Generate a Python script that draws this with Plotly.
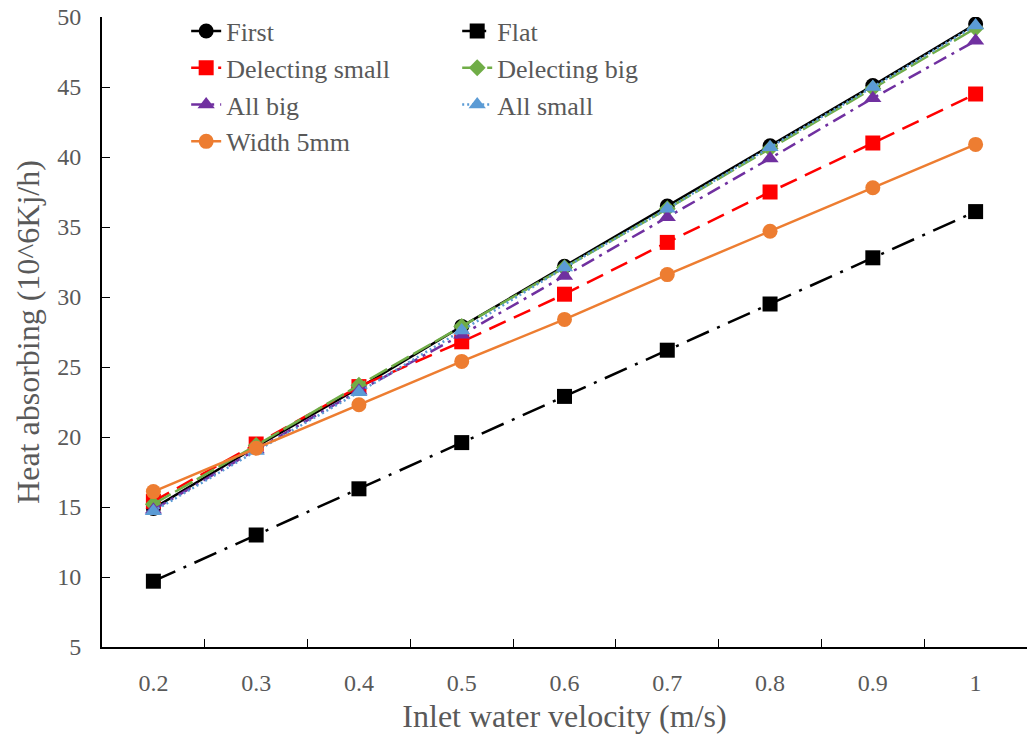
import plotly.graph_objects as go

velocity = ["0.2", "0.3", "0.4", "0.5", "0.6", "0.7", "0.8", "0.9", "1"]

first = [14.9, 19.3, 23.5, 27.9, 32.2, 36.5, 40.8, 45.1, 49.5]
flat = [9.7, 13.0, 16.3, 19.6, 22.9, 26.2, 29.5, 32.8, 36.1]
delecting_small = [15.4, 19.5, 23.6, 26.8, 30.2, 33.9, 37.5, 41.0, 44.5]
delecting_big = [15.2, 19.4, 23.7, 27.9, 32.1, 36.3, 40.6, 44.9, 49.2]
all_big = [14.8, 19.1, 23.3, 27.3, 31.5, 35.7, 39.9, 44.2, 48.3]
all_small = [14.7, 19.0, 23.2, 27.6, 32.1, 36.3, 40.7, 45.0, 49.4]
width_5mm = [16.1, 19.2, 22.3, 25.4, 28.4, 31.6, 34.7, 37.8, 40.9]

FONT = "Liberation Serif, Times New Roman, serif"
GRAY = "#595959"

series = [
    ("First", first, "#000000", "solid", "circle", 15, "legend"),
    ("Flat", flat, "#000000", "24px,9px,3px,9px", "square", 15, "legend2"),
    ("Delecting small", delecting_small, "#FF0000", "18px,9px", "square", 15, "legend"),
    ("Delecting big", delecting_big, "#70AD47", "20px,5px", "diamond", 13, "legend2"),
    ("All big", all_big, "#7030A0", "14px,6px,3px,6px", "triangle-up", 15, "legend"),
    ("All small", all_small, "#5B9BD5", "2px,3px", "triangle-up", 15, "legend2"),
    ("Width 5mm", width_5mm, "#ED7D31", "solid", "circle", 15, "legend"),
]

fig = go.Figure()
for name, vals, color, dash, symbol, size, leg in series:
    fig.add_trace(go.Scatter(
        x=velocity, y=vals, name=name, mode="lines+markers",
        line=dict(color=color, width=2.5, dash=dash),
        marker=dict(symbol=symbol, size=size, color=color),
        legend=leg, legendgroup=name,
    ))

legend_common = dict(
    font=dict(family=FONT, size=26, color=GRAY),
    bgcolor="rgba(0,0,0,0)", tracegroupgap=0,
    yanchor="top", y=1.015, xanchor="left",
)

fig.update_layout(
    width=1031, height=742,
    margin=dict(l=102, r=4, t=17, b=95),
    paper_bgcolor="white", plot_bgcolor="white",
    font=dict(family=FONT, color=GRAY),
    legend=dict(x=0.091, **legend_common),
    legend2=dict(x=0.384, **legend_common),
    xaxis=dict(
        type="category", range=[-0.5, 8.5],
        showline=True, linecolor="black", linewidth=2,
        ticks="inside", tickson="boundaries", ticklen=8, tickcolor="black",
        tickfont=dict(family=FONT, size=24, color=GRAY),
        ticklabelstandoff=13,
        showgrid=False, zeroline=False,
        title=dict(text="Inlet water velocity (m/s)",
                   font=dict(family=FONT, size=32, color=GRAY), standoff=10),
    ),
    yaxis=dict(
        range=[5, 50], dtick=5,
        showline=True, linecolor="black", linewidth=2,
        ticks="inside", ticklen=8, tickcolor="black",
        tickfont=dict(family=FONT, size=24, color=GRAY),
        ticklabelstandoff=14,
        showgrid=False, zeroline=False,
        title=dict(text="Heat absorbing (10^6Kj/h)",
                   font=dict(family=FONT, size=32, color=GRAY), standoff=8),
    ),
)

fig.write_html("out.html")
